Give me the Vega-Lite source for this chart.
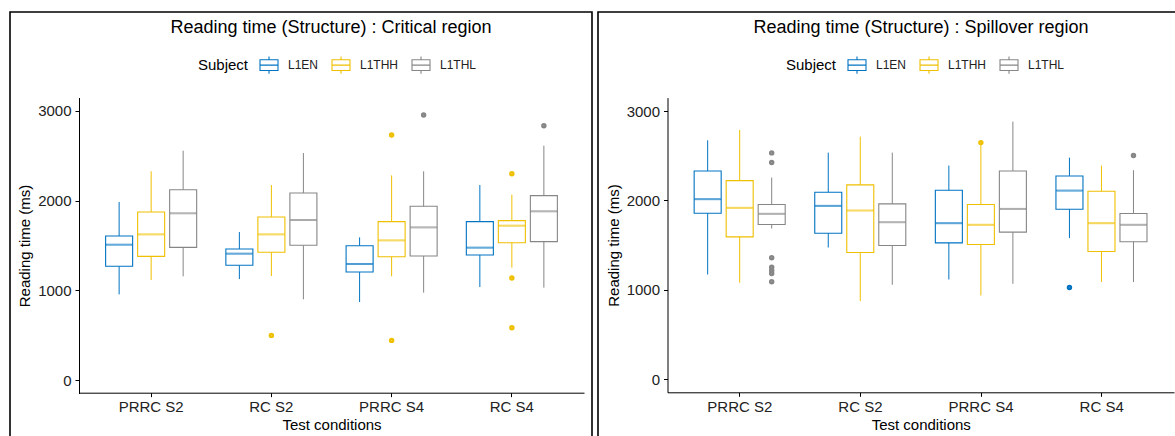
{
  "$schema": "https://vega.github.io/schema/vega-lite/v6.json",
  "padding": {"left": 9, "top": 11, "right": 0, "bottom": 0},
  "spacing": 4,
  "resolve": {"scale": {"stroke": "independent"}, "legend": {"stroke": "independent"}},
  "datasets": {
    "boxes": [
      {"region": "Critical", "condition": "PRRC S2", "subject": "L1EN", "lower": 955, "q1": 1268, "median": 1509, "q3": 1606, "upper": 1985},
      {"region": "Critical", "condition": "PRRC S2", "subject": "L1THH", "lower": 1115, "q1": 1379, "median": 1624, "q3": 1873, "upper": 2327},
      {"region": "Critical", "condition": "PRRC S2", "subject": "L1THL", "lower": 1156, "q1": 1479, "median": 1859, "q3": 2122, "upper": 2557},
      {"region": "Critical", "condition": "RC S2", "subject": "L1EN", "lower": 1126, "q1": 1279, "median": 1409, "q3": 1461, "upper": 1650},
      {"region": "Critical", "condition": "RC S2", "subject": "L1THH", "lower": 1160, "q1": 1424, "median": 1624, "q3": 1818, "upper": 2174},
      {"region": "Critical", "condition": "RC S2", "subject": "L1THL", "lower": 900, "q1": 1502, "median": 1784, "q3": 2085, "upper": 2531},
      {"region": "Critical", "condition": "PRRC S4", "subject": "L1EN", "lower": 870, "q1": 1204, "median": 1294, "q3": 1498, "upper": 1591},
      {"region": "Critical", "condition": "PRRC S4", "subject": "L1THH", "lower": 1156, "q1": 1375, "median": 1557, "q3": 1766, "upper": 2282},
      {"region": "Critical", "condition": "PRRC S4", "subject": "L1THL", "lower": 974, "q1": 1383, "median": 1702, "q3": 1937, "upper": 2327},
      {"region": "Critical", "condition": "RC S4", "subject": "L1EN", "lower": 1037, "q1": 1394, "median": 1476, "q3": 1766, "upper": 2174},
      {"region": "Critical", "condition": "RC S4", "subject": "L1THH", "lower": 1253, "q1": 1531, "median": 1721, "q3": 1777, "upper": 2067},
      {"region": "Critical", "condition": "RC S4", "subject": "L1THL", "lower": 1030, "q1": 1543, "median": 1881, "q3": 2056, "upper": 2613},
      {"region": "Spillover", "condition": "PRRC S2", "subject": "L1EN", "lower": 1170, "q1": 1856, "median": 2013, "q3": 2329, "upper": 2672},
      {"region": "Spillover", "condition": "PRRC S2", "subject": "L1THH", "lower": 1077, "q1": 1591, "median": 1916, "q3": 2221, "upper": 2788},
      {"region": "Spillover", "condition": "PRRC S2", "subject": "L1THL", "lower": 1685, "q1": 1729, "median": 1849, "q3": 1953, "upper": 2255},
      {"region": "Spillover", "condition": "RC S2", "subject": "L1EN", "lower": 1472, "q1": 1632, "median": 1938, "q3": 2091, "upper": 2534},
      {"region": "Spillover", "condition": "RC S2", "subject": "L1THH", "lower": 872, "q1": 1416, "median": 1886, "q3": 2173, "upper": 2713},
      {"region": "Spillover", "condition": "RC S2", "subject": "L1THL", "lower": 1055, "q1": 1495, "median": 1755, "q3": 1960, "upper": 2534},
      {"region": "Spillover", "condition": "PRRC S4", "subject": "L1EN", "lower": 1114, "q1": 1524, "median": 1744, "q3": 2113, "upper": 2389},
      {"region": "Spillover", "condition": "PRRC S4", "subject": "L1THH", "lower": 935, "q1": 1506, "median": 1726, "q3": 1953, "upper": 2630},
      {"region": "Spillover", "condition": "PRRC S4", "subject": "L1THL", "lower": 1066, "q1": 1644, "median": 1904, "q3": 2329, "upper": 2881},
      {"region": "Spillover", "condition": "RC S4", "subject": "L1EN", "lower": 1577, "q1": 1901, "median": 2109, "q3": 2273, "upper": 2478},
      {"region": "Spillover", "condition": "RC S4", "subject": "L1THH", "lower": 1085, "q1": 1427, "median": 1744, "q3": 2102, "upper": 2389},
      {"region": "Spillover", "condition": "RC S4", "subject": "L1THL", "lower": 1085, "q1": 1536, "median": 1726, "q3": 1852, "upper": 2337}
    ],
    "outliers": [
      {"region": "Critical", "condition": "RC S2", "subject": "L1THH", "value": 498},
      {"region": "Critical", "condition": "PRRC S4", "subject": "L1THH", "value": 2732},
      {"region": "Critical", "condition": "PRRC S4", "subject": "L1THH", "value": 442},
      {"region": "Critical", "condition": "PRRC S4", "subject": "L1THL", "value": 2955},
      {"region": "Critical", "condition": "RC S4", "subject": "L1THH", "value": 2301},
      {"region": "Critical", "condition": "RC S4", "subject": "L1THH", "value": 1137},
      {"region": "Critical", "condition": "RC S4", "subject": "L1THH", "value": 584},
      {"region": "Critical", "condition": "RC S4", "subject": "L1THL", "value": 2836},
      {"region": "Spillover", "condition": "PRRC S2", "subject": "L1THL", "value": 2531},
      {"region": "Spillover", "condition": "PRRC S2", "subject": "L1THL", "value": 2423},
      {"region": "Spillover", "condition": "PRRC S2", "subject": "L1THL", "value": 1357},
      {"region": "Spillover", "condition": "PRRC S2", "subject": "L1THL", "value": 1252},
      {"region": "Spillover", "condition": "PRRC S2", "subject": "L1THL", "value": 1215},
      {"region": "Spillover", "condition": "PRRC S2", "subject": "L1THL", "value": 1181},
      {"region": "Spillover", "condition": "PRRC S2", "subject": "L1THL", "value": 1088},
      {"region": "Spillover", "condition": "PRRC S4", "subject": "L1THH", "value": 2646},
      {"region": "Spillover", "condition": "RC S4", "subject": "L1EN", "value": 1025},
      {"region": "Spillover", "condition": "RC S4", "subject": "L1THL", "value": 2501}
    ]
  },
  "hconcat": [
    {
      "width": 582,
      "height": 425,
      "title": {"text": "Reading time (Structure) : Critical region", "frame": "group", "dx": 30, "offset": -25},
      "encoding": {
        "x": {"field": "condition", "type": "nominal", "title": "Test conditions", "sort": ["PRRC S2", "RC S2", "PRRC S4", "RC S4"],
              "scale": {"type": "band", "domain": ["PRRC S2", "RC S2", "PRRC S4", "RC S4"], "range": [69, 574], "paddingInner": 0, "paddingOuter": 0.1},
              "axis": {"offset": -44.3, "labelAngle": 0}},
        "xOffset": {"field": "subject", "type": "nominal", "scale": {"domain": ["L1EN", "L1THH", "L1THL"], "paddingInner": 0.156, "paddingOuter": 0.456}},
        "stroke": {"field": "subject", "type": "nominal", "title": "Subject",
                  "scale": {"domain": ["L1EN", "L1THH", "L1THL"], "range": ["#0073C2", "#EFC000", "#868686"]},
                  "legend": {"orient": "none", "legendX": 188, "legendY": 43, "direction": "horizontal", "titleOrient": "left"}}
      },
      "layer": [
        {
          "data": {"name": "outliers"},
          "transform": [{"filter": "datum.region === 'Critical'"}],
          "mark": {"type": "point", "filled": false, "size": 6, "strokeWidth": 3, "opacity": 1},
          "encoding": {
            "y": {"field": "value", "type": "quantitative", "title": "Reading time (ms)",
                  "scale": {"domain": [-150, 3150], "range": [381.5, 85.5], "nice": false, "zero": false},
                  "axis": {"values": [0, 1000, 2000, 3000], "format": "d", "offset": -69}}
          }
        },
        {
          "data": {"name": "boxes"},
          "transform": [{"filter": "datum.region === 'Critical'"}],
          "mark": {"type": "tick", "filled": false, "thickness": 1, "strokeWidth": 1, "size": 26},
          "encoding": {
            "y": {"field": "median", "type": "quantitative", "title": "Reading time (ms)",
                  "scale": {"domain": [-150, 3150], "range": [381.5, 85.5], "nice": false, "zero": false},
                  "axis": {"values": [0, 1000, 2000, 3000], "format": "d", "offset": -69}}
          }
        },
        {
          "data": {"name": "boxes"},
          "transform": [{"filter": "datum.region === 'Critical'"}],
          "mark": {"type": "rule", "strokeWidth": 1},
          "encoding": {
            "y": {"field": "lower", "type": "quantitative", "title": "Reading time (ms)",
                  "scale": {"domain": [-150, 3150], "range": [381.5, 85.5], "nice": false, "zero": false},
                  "axis": {"values": [0, 1000, 2000, 3000], "format": "d", "offset": -69}},
            "y2": {"field": "q1"}
          }
        },
        {
          "data": {"name": "boxes"},
          "transform": [{"filter": "datum.region === 'Critical'"}],
          "mark": {"type": "rule", "strokeWidth": 1},
          "encoding": {
            "y": {"field": "q3", "type": "quantitative", "title": "Reading time (ms)",
                  "scale": {"domain": [-150, 3150], "range": [381.5, 85.5], "nice": false, "zero": false},
                  "axis": {"values": [0, 1000, 2000, 3000], "format": "d", "offset": -69}},
            "y2": {"field": "upper"}
          }
        },
        {
          "data": {"name": "boxes"},
          "transform": [{"filter": "datum.region === 'Critical'"}],
          "mark": {"type": "bar", "filled": false, "strokeWidth": 1.1},
          "encoding": {
            "y": {"field": "q1", "type": "quantitative", "title": "Reading time (ms)",
                  "scale": {"domain": [-150, 3150], "range": [381.5, 85.5], "nice": false, "zero": false},
                  "axis": {"values": [0, 1000, 2000, 3000], "format": "d", "offset": -69}},
            "y2": {"field": "q3"}
          }
        }
      ]
    },
    {
      "width": 578,
      "height": 425,
      "title": {"text": "Reading time (Structure) : Spillover region", "frame": "group", "dx": 34, "offset": -25},
      "encoding": {
        "x": {"field": "condition", "type": "nominal", "title": "Test conditions", "sort": ["PRRC S2", "RC S2", "PRRC S4", "RC S4"],
              "scale": {"type": "band", "domain": ["PRRC S2", "RC S2", "PRRC S4", "RC S4"], "range": [69.5, 576], "paddingInner": 0, "paddingOuter": 0.1},
              "axis": {"offset": -44.7, "labelAngle": 0}},
        "xOffset": {"field": "subject", "type": "nominal", "scale": {"domain": ["L1EN", "L1THH", "L1THL"], "paddingInner": 0.156, "paddingOuter": 0.456}},
        "stroke": {"field": "subject", "type": "nominal", "title": "Subject",
                  "scale": {"domain": ["L1EN", "L1THH", "L1THL"], "range": ["#0073C2", "#EFC000", "#868686"]},
                  "legend": {"orient": "none", "legendX": 188, "legendY": 43, "direction": "horizontal", "titleOrient": "left"}}
      },
      "layer": [
        {
          "data": {"name": "outliers"},
          "transform": [{"filter": "datum.region === 'Spillover'"}],
          "mark": {"type": "point", "filled": false, "size": 6, "strokeWidth": 3, "opacity": 1},
          "encoding": {
            "y": {"field": "value", "type": "quantitative", "title": "Reading time (ms)",
                  "scale": {"domain": [-150, 3150], "range": [380.4, 85.6], "nice": false, "zero": false},
                  "axis": {"values": [0, 1000, 2000, 3000], "format": "d", "offset": -69.5}}
          }
        },
        {
          "data": {"name": "boxes"},
          "transform": [{"filter": "datum.region === 'Spillover'"}],
          "mark": {"type": "tick", "filled": false, "thickness": 1, "strokeWidth": 1, "size": 26},
          "encoding": {
            "y": {"field": "median", "type": "quantitative", "title": "Reading time (ms)",
                  "scale": {"domain": [-150, 3150], "range": [380.4, 85.6], "nice": false, "zero": false},
                  "axis": {"values": [0, 1000, 2000, 3000], "format": "d", "offset": -69.5}}
          }
        },
        {
          "data": {"name": "boxes"},
          "transform": [{"filter": "datum.region === 'Spillover'"}],
          "mark": {"type": "rule", "strokeWidth": 1},
          "encoding": {
            "y": {"field": "lower", "type": "quantitative", "title": "Reading time (ms)",
                  "scale": {"domain": [-150, 3150], "range": [380.4, 85.6], "nice": false, "zero": false},
                  "axis": {"values": [0, 1000, 2000, 3000], "format": "d", "offset": -69.5}},
            "y2": {"field": "q1"}
          }
        },
        {
          "data": {"name": "boxes"},
          "transform": [{"filter": "datum.region === 'Spillover'"}],
          "mark": {"type": "rule", "strokeWidth": 1},
          "encoding": {
            "y": {"field": "q3", "type": "quantitative", "title": "Reading time (ms)",
                  "scale": {"domain": [-150, 3150], "range": [380.4, 85.6], "nice": false, "zero": false},
                  "axis": {"values": [0, 1000, 2000, 3000], "format": "d", "offset": -69.5}},
            "y2": {"field": "upper"}
          }
        },
        {
          "data": {"name": "boxes"},
          "transform": [{"filter": "datum.region === 'Spillover'"}],
          "mark": {"type": "bar", "filled": false, "strokeWidth": 1.1},
          "encoding": {
            "y": {"field": "q1", "type": "quantitative", "title": "Reading time (ms)",
                  "scale": {"domain": [-150, 3150], "range": [380.4, 85.6], "nice": false, "zero": false},
                  "axis": {"values": [0, 1000, 2000, 3000], "format": "d", "offset": -69.5}},
            "y2": {"field": "q3"}
          }
        }
      ]
    }
  ],
  "config": {
    "font": "Liberation Sans",
    "background": "white",
    "view": {"stroke": "black", "strokeWidth": 1.6},
    "axis": {"domainColor": "black", "domainWidth": 1, "tickColor": "black", "tickSize": 4, "tickWidth": 1,
             "labelColor": "#222", "labelFontSize": 15, "labelFont": "Liberation Sans",
             "titleColor": "black", "titleFontSize": 15, "titleFontWeight": "normal", "titleFont": "Liberation Sans", "grid": false},
    "axisX": {"labelPadding": 3, "titlePadding": 3},
    "axisY": {"labelPadding": 4, "titlePadding": 5},
    "legend": {"titleFontSize": 15, "titleFontWeight": "normal", "titleColor": "black", "labelFontSize": 12, "labelColor": "#222",
               "symbolType": "M-1,-0.6H1V0.6H-1Z M-1,0H1 M0,-0.6V-0.95 M0,0.6V0.95", "symbolSize": 324, "symbolStrokeWidth": 1.1,
               "symbolFillColor": "white", "labelOffset": 9, "columnPadding": 10, "titlePadding": 10, "padding": 0},
    "title": {"fontSize": 18, "fontWeight": "normal", "color": "black", "font": "Liberation Sans"}
  }
}
